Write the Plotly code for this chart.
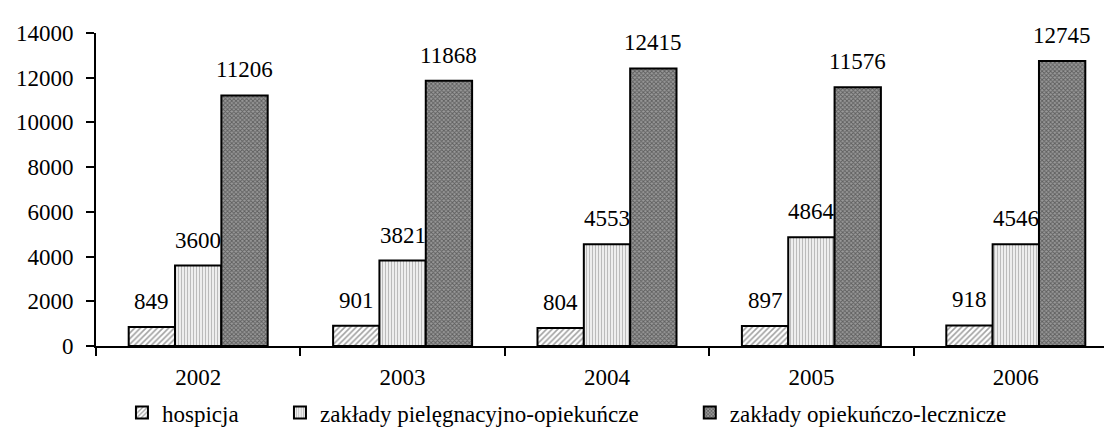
import plotly.graph_objects as go

years = ["2002", "2003", "2004", "2005", "2006"]
hospicja = [849, 901, 804, 897, 918]
pielegnacyjne = [3600, 3821, 4553, 4864, 4546]
lecznicze = [11206, 11868, 12415, 11576, 12745]

names = ["hospicja", "zakłady pielęgnacyjno-opiekuńcze", "zakłady opiekuńczo-lecznicze"]
series = [hospicja, pielegnacyjne, lecznicze]
patterns = [
    dict(shape="/", fgcolor="#444444", bgcolor="#ffffff", size=4, solidity=0.4),
    dict(shape="|", fgcolor="#777777", bgcolor="#ffffff", size=3, solidity=0.5),
    dict(shape="x", fgcolor="#222222", bgcolor="#999999", size=3, solidity=0.5),
]
legends = ["legend", "legend2", "legend3"]
legend_x = [0.0254, 0.180, 0.581]

FONT = "Liberation Serif, Times New Roman, serif"
FS = 23

fig = go.Figure()
for i, (nm, vals, pat, lg) in enumerate(zip(names, series, patterns, legends)):
    fig.add_trace(go.Bar(
        x=years, y=vals, name=nm, legend=lg,
        marker=dict(color="white", pattern=pat, line=dict(color="black", width=2)),
        offsetgroup=str(i),
    ))

# value labels above bars (category index positions)
offsets = [-1, 0, 1]
for vals, off in zip(series, offsets):
    for idx, v in enumerate(vals):
        fig.add_annotation(
            x=idx, y=v, text=str(v), showarrow=False, xref="x", yref="y",
            yanchor="bottom", yshift=11, xshift=off * 46.3,
            font=dict(family=FONT, size=FS, color="black"),
        )

layout_legends = {}
for lg, lx in zip(legends, legend_x):
    layout_legends[lg] = dict(
        x=lx, y=-0.213, xanchor="left", yanchor="middle", orientation="h",
        font=dict(family=FONT, size=FS, color="black"), bgcolor="rgba(0,0,0,0)",
        itemwidth=30,
    )

fig.update_layout(
    width=1112, height=428,
    margin=dict(l=88, r=2, t=25, b=84),
    plot_bgcolor="white", paper_bgcolor="white",
    barmode="group", bargap=0.32, bargroupgap=0,
    font=dict(family=FONT, size=FS, color="black"),
    showlegend=True,
    **layout_legends,
)
fig.update_xaxes(
    type="category", categoryorder="array", categoryarray=years,
    range=[-0.5, 4.5], autorange=False,
    showline=True, linecolor="black", linewidth=2,
    ticks="outside", tickson="boundaries", ticklen=8, tickwidth=2, tickcolor="black",
    showgrid=False, ticklabelstandoff=9, tickangle=0,
    tickfont=dict(family=FONT, size=FS, color="black"),
)
fig.update_yaxes(
    range=[0, 14000], autorange=False,
    tickvals=[0, 2000, 4000, 6000, 8000, 10000, 12000, 14000], tickformat="d",
    showline=True, linecolor="black", linewidth=2,
    ticks="outside", ticklen=8, tickwidth=2, tickcolor="black",
    showgrid=False, zeroline=False, ticklabelstandoff=8,
    tickfont=dict(family=FONT, size=FS, color="black"),
)

fig.write_html("out.html")
